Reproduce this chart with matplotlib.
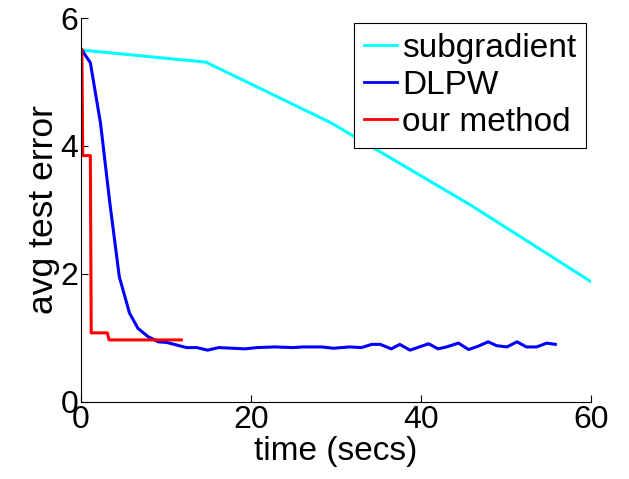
import matplotlib
matplotlib.use("Agg")
import matplotlib.pyplot as plt

# values
sub_t = [0, 14.7, 29.3, 45.8, 60]
sub_err = [5.5, 5.31, 4.37, 3.08, 1.88]

dlpw_t = [0.1, 1.1, 2.3, 3.4, 4.5, 5.7, 6.7, 7.9, 9.1, 10.1, 12.4, 13.6, 14.9,
          16.2, 19.3, 20.7, 22.8, 25.0, 26.1, 28.3, 29.7, 31.6, 33.0, 34.2,
          35.2, 36.5, 37.5, 38.7, 40.9, 42.0, 43.0, 44.4, 45.6, 46.7, 47.9,
          48.9, 50.1, 51.3, 52.4, 53.6, 54.8, 55.8]
dlpw_err = [5.5, 5.3, 4.35, 3.1, 1.96, 1.39, 1.15, 1.02, 0.94, 0.93, 0.85, 0.85,
            0.81, 0.85, 0.83, 0.85, 0.86, 0.85, 0.86, 0.86, 0.84, 0.86, 0.85,
            0.90, 0.90, 0.83, 0.90, 0.81, 0.91, 0.83, 0.86, 0.92, 0.82, 0.87,
            0.94, 0.88, 0.86, 0.94, 0.86, 0.86, 0.92, 0.90]

ours_t = [0.1, 0.2, 1.1, 1.2, 3.1, 3.3, 11.8]
ours_err = [5.5, 3.85, 3.85, 1.08, 1.08, 0.97, 0.97]

x_ticks = [0, 20, 40, 60]
y_ticks = [0, 2, 4, 6]

plt.rcParams['font.family'] = ['Liberation Sans', 'DejaVu Sans']

fig = plt.figure(figsize=(6.29, 4.79), dpi=100)
ax = fig.add_axes([0.1288, 0.1608, 0.9396 - 0.1288, 0.9624 - 0.1608])

ax.plot(sub_t, sub_err, color=(0, 1, 1), lw=2.2, label="subgradient")
ax.plot(dlpw_t, dlpw_err, color=(0, 0, 1), lw=2.2, label="DLPW")
ax.plot(ours_t, ours_err, color=(1, 0, 0), lw=2.2, label="our method")

ax.set_xlim(0, 60)
ax.set_ylim(0, 6)
ax.set_xticks(x_ticks)
ax.set_yticks(y_ticks)
ax.tick_params(direction="in", labelsize=23, length=5, width=0.8, pad=2)
ax.spines["top"].set_visible(False)
ax.spines["right"].set_visible(False)

ax.set_xlabel("time (secs)", fontsize=24, labelpad=1)
ax.set_ylabel("avg test error", fontsize=25.5, labelpad=0)

leg = ax.legend(loc="upper right", fontsize=24, fancybox=False, framealpha=1,
                edgecolor="black", handlelength=1.0, handletextpad=0.15,
                borderpad=0.3, labelspacing=0.18, borderaxespad=0.15,
                bbox_to_anchor=(1.0, 1.0))
leg.get_frame().set_linewidth(0.8)
for line in leg.get_lines():
    line.set_linewidth(2.0)

fig.savefig("out.png", dpi=100)
